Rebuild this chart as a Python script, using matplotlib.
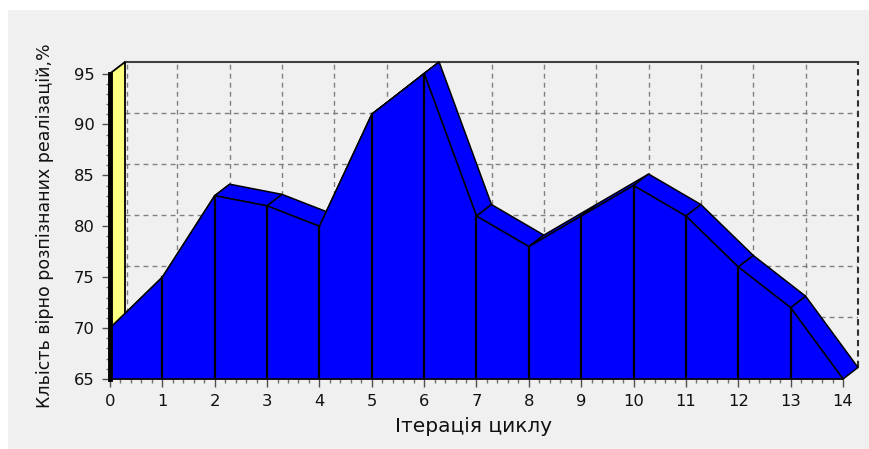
import matplotlib
matplotlib.use("Agg")
import matplotlib.pyplot as plt
from matplotlib.patches import Polygon, Rectangle
import numpy as np

plt.rcParams['font.family'] = ['DejaVu Sans']

# ---- data ----
iterations = [0, 1, 2, 3, 4, 5, 6, 7, 8, 9, 10, 11, 12, 13, 14]
values = [70, 75, 83, 82, 80, 91, 95, 81, 78, 81, 84, 81, 76, 72, 65]
y_ticks = [65, 70, 75, 80, 85, 90, 95]
x_label = "Ітерація циклу"
y_label = "Кльість вірно розпізнаних реалізацій,%"

# ---- style ----
BG = '#f0f0f0'
BLUE = '#0000ff'
YELLOW = '#ffff80'
GRID = '#808080'
Y0, Y1 = 65, 95
X0, X1 = iterations[0], iterations[-1]
DX, DY = 0.2865, 1.13   # 3D depth offset in data units

W, H = 870, 449
fig = plt.figure(figsize=(W / 100, H / 100), dpi=100)
fig.patch.set_facecolor('white')
fig.add_artist(Rectangle((8 / W, 0), 1 - 8 / W, 1 - 10 / H, transform=fig.transFigure,
                         fc=BG, ec='none', zorder=0))
L, R, T, B = 110, 858, 62, 379
ax = fig.add_axes([L / W, (H - B) / H, (R - L) / W, (B - T) / H])
ax.set_facecolor(BG)
ax.set_xlim(X0, X1 + DX)
ax.set_ylim(Y0, Y1 + DY)

# back wall grid
dash = (0, (3.5, 3))
for v in y_ticks[1:-1]:
    ax.plot([X0 + DX, X1 + DX], [v + DY, v + DY], color=GRID, lw=1, ls=dash, zorder=1)
for i in iterations[:-1]:
    xo = i + DX + (0.03 if i == 0 else 0)
    ax.plot([xo, xo], [Y0 + DY, Y1 + DY], color=GRID, lw=1, ls=dash, zorder=1)
ax.plot([X0 + DX, X1 + DX], [Y1 + DY, Y1 + DY], color='#404040', lw=1.5, zorder=1, clip_on=False)
ax.plot([X1 + DX, X1 + DX], [Y0 + DY, Y1 + DY], color='#303030', lw=1.5, ls=(0, (3, 2)), zorder=1, clip_on=False)

# left wall (yellow)
wall = Polygon([(X0, Y0), (X0, Y1), (X0 + DX, Y1 + DY), (X0 + DX, Y0 + DY)],
               closed=True, fc=YELLOW, ec='black', lw=1.3, zorder=2, clip_on=False)
ax.add_patch(wall)

# top surface of the 3D area
for i in range(len(iterations) - 1):
    xa, xb = iterations[i], iterations[i + 1]
    va, vb = values[i], values[i + 1]
    quad = Polygon([(xa, va), (xb, vb), (xb + DX, vb + DY), (xa + DX, va + DY)],
                   closed=True, fc=BLUE, ec='black', lw=1.1, zorder=3, clip_on=False)
    ax.add_patch(quad)

# front face
front = [(X0, Y0)] + list(zip(iterations, values)) + [(X1, Y0)]
ax.add_patch(Polygon(front, closed=True, fc=BLUE, ec='black', lw=1.1, zorder=4, clip_on=False))
for x, v in zip(iterations, values):
    ax.plot([x, x], [Y0, v], color='black', lw=1.6, zorder=5)

# axes / spines
for s in ['top', 'right']:
    ax.spines[s].set_visible(False)
ax.spines['left'].set_linewidth(3.5)
ax.spines['left'].set_color('black')
ax.spines['left'].set_bounds(Y0, Y1)
ax.spines['left'].set_zorder(6)
ax.spines['bottom'].set_bounds(X0, X1)
ax.spines['bottom'].set_color('#404040')
ax.spines['bottom'].set_linewidth(1.2)

ax.set_xticks(iterations)
ax.set_xticklabels([str(i) for i in iterations])
ax.set_xticks(np.arange(X0, X1 + 0.001, 0.2), minor=True)
ax.set_yticks(y_ticks)
ax.set_yticklabels([str(v) for v in y_ticks])
ax.set_yticks(np.arange(Y0, Y1 + 0.001, 1), minor=True)
ax.tick_params(axis='both', which='major', direction='out', length=6, width=1,
               color='#505050', labelsize=11.8, labelcolor='#111111', pad=5)
ax.tick_params(axis='both', which='minor', direction='out', length=3, width=1, color='#707070')

fig.text(474 / W, 1 - 427 / H, x_label, ha='center', va='center', fontsize=14.5, color='#111111')
fig.text(45 / W, 1 - 226 / H, y_label, ha='center', va='center', rotation=90, fontsize=12.5,
         color='#111111')

fig.savefig('out.png', dpi=100, facecolor='white')
